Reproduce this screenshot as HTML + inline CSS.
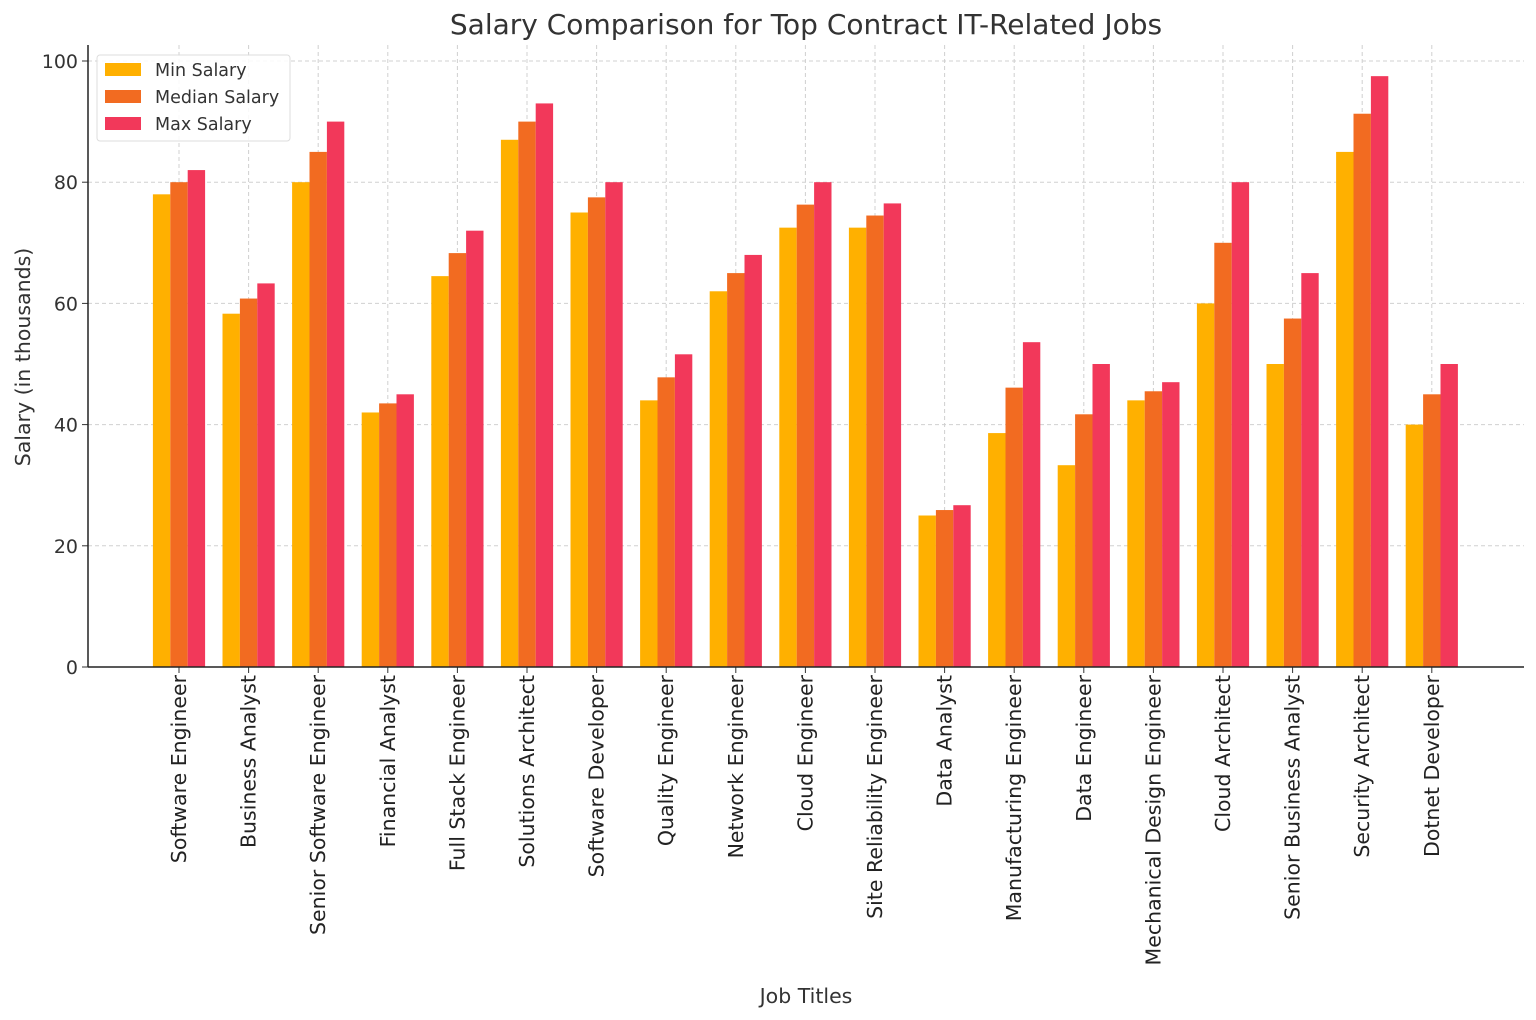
<!DOCTYPE html>
<html><head><meta charset="utf-8"><style>
body{margin:0;background:#fff;}
svg{display:block;font-family:"DejaVu Sans","Liberation Sans",sans-serif;}
</style></head><body>
<svg id="chart" width="1536" height="1020">
<text x="806" y="34" text-anchor="middle" font-size="28" fill="#333">Salary Comparison for Top Contract IT-Related Jobs</text>
<g id="grid"></g><g id="bars"></g><g id="axes"></g>
<text x="806" y="1003" text-anchor="middle" font-size="20.5" fill="#333">Job Titles</text>
<text transform="translate(30,357) rotate(-90)" text-anchor="middle" font-size="20.5" fill="#333">Salary (in thousands)</text>
<g>
<rect x="97" y="55" width="193" height="86" fill="#fff" fill-opacity="0.85" stroke="#ddd" rx="3"/>
<rect x="105" y="63" width="36" height="13" fill="#FFB000"/>
<text x="155" y="76" font-size="17.5" fill="#333">Min Salary</text>
<rect x="105" y="90" width="36" height="13" fill="#F26B21"/>
<text x="155" y="103" font-size="17.5" fill="#333">Median Salary</text>
<rect x="105" y="117" width="36" height="13" fill="#F2385A"/>
<text x="155" y="130" font-size="17.5" fill="#333">Max Salary</text>
</g>
</svg>
<script>
const categories=["Software Engineer","Business Analyst","Senior Software Engineer","Financial Analyst","Full Stack Engineer","Solutions Architect","Software Developer","Quality Engineer","Network Engineer","Cloud Engineer","Site Reliability Engineer","Data Analyst","Manufacturing Engineer","Data Engineer","Mechanical Design Engineer","Cloud Architect","Senior Business Analyst","Security Architect","Dotnet Developer"];
const minSalary=[78,58.3,80,42,64.5,87,75,44,62,72.5,72.5,25,38.6,33.3,44,60,50,85,40];
const medianSalary=[80,60.8,85,43.5,68.3,90,77.5,47.8,65,76.3,74.5,25.9,46.1,41.7,45.5,70,57.5,91.3,45];
const maxSalary=[82,63.3,90,45,72,93,80,51.6,68,80,76.5,26.7,53.6,50,47,80,65,97.5,50];
const yTicks=[0,20,40,60,80,100];
const NS="http://www.w3.org/2000/svg";
const y0=667,pxPer=6.06,x0=179,step=69.6,bw=17.4;
const ys=v=>y0-v*pxPer, xs=i=>x0+i*step;
function mk(t,a,p){const e=document.createElementNS(NS,t);for(const k in a)e.setAttribute(k,a[k]);p.appendChild(e);return e;}
const grid=document.getElementById('grid'),bars=document.getElementById('bars'),axes=document.getElementById('axes');
yTicks.forEach(v=>{
 if(v>0){const g=mk('line',{x1:88,x2:1524,y1:ys(v),y2:ys(v),stroke:'#d0d0d0','stroke-dasharray':'4,3','stroke-width':1},grid);
 
 }
 mk('line',{x1:82,x2:88,y1:ys(v),y2:ys(v),stroke:'#333'},axes);
 const t=mk('text',{x:78,y:ys(v)+7,'text-anchor':'end','font-size':19,fill:'#333'},axes);t.textContent=v;
 
 
});
const series=[[minSalary,'#FFB000','min'],[medianSalary,'#F26B21','median'],[maxSalary,'#F2385A','max']];
categories.forEach((c,i)=>{
 const cx=xs(i);
 const g=mk('line',{x1:cx,x2:cx,y1:45,y2:y0,stroke:'#d0d0d0','stroke-dasharray':'4,3'},grid);
 
 
 series.forEach((s,j)=>{
  const v=s[0][i];
  const r=mk('rect',{x:cx+(j-1)*bw-bw/2,y:ys(v),width:bw,height:v*pxPer,fill:s[1]},bars);
  
  
 });
 mk('line',{x1:cx,x2:cx,y1:y0,y2:y0+6,stroke:'#333'},axes);
 const t=mk('text',{transform:`translate(${cx+7},675) rotate(-90)`,'text-anchor':'end','font-size':20.5,fill:'#222'},axes);
 t.textContent=c;
 
 
});
mk('line',{x1:88,x2:88,y1:45,y2:y0,stroke:'#222','stroke-width':1.5},axes);
mk('line',{x1:88,x2:1524,y1:y0,y2:y0,stroke:'#222','stroke-width':1.5},axes);
</script>
</body></html>
